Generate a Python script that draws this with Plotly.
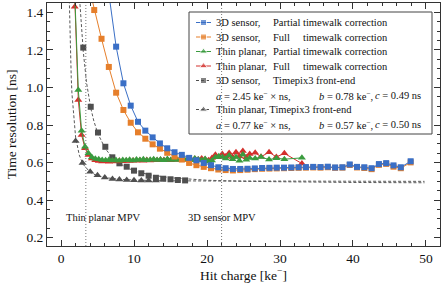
import plotly.graph_objects as go

# ---------------- data ----------------
# 3D sensor, partial / full timewalk correction (bin centres in ke-)
d3_x = [3.55, 4.55, 5.55, 6.55, 7.55, 8.55, 9.55, 10.55, 11.55, 12.55, 13.55, 14.55,
        15.55, 16.55, 17.55, 18.55, 19.55, 20.55, 21.55, 22.55, 23.55, 24.55, 25.55,
        26.55, 27.55, 28.55, 29.55, 30.55, 31.55, 32.55, 33.55, 34.55, 35.55, 36.55,
        37.55, 38.55, 39.55, 40.55, 41.55, 42.55, 43.55, 44.55, 45.55, 46.55, 47.9]
d3_partial = [2.10, 1.80, 1.62, 1.50, 1.217, 1.022, 0.903, 0.817, 0.770, 0.734, 0.702, 0.676,
              0.655, 0.641, 0.625, 0.612, 0.598, 0.586, 0.575, 0.570, 0.566, 0.566, 0.567,
              0.569, 0.571, 0.572, 0.573, 0.573, 0.574, 0.575, 0.576, 0.577, 0.576, 0.578,
              0.574, 0.575, 0.590, 0.577, 0.575, 0.570, 0.592, 0.597, 0.585, 0.575, 0.607]
d3_full = [1.58, 1.412, 1.259, 1.109, 0.972, 0.880, 0.812, 0.761, 0.727, 0.697, 0.674, 0.652,
           0.632, 0.616, 0.598, 0.586, 0.577, 0.570, 0.563, 0.560, 0.558, 0.560, 0.562,
           0.565, 0.567, 0.568, 0.569, 0.570, 0.571, 0.572, 0.573, 0.574, 0.573, 0.575,
           0.572, 0.573, 0.587, 0.574, 0.571, 0.565, 0.588, 0.593, 0.578, 0.570, 0.601]

# Thin planar, partial / full timewalk correction
thin_x = [1.41, 1.88, 2.37, 2.82, 3.29, 3.76, 4.23, 4.70, 5.17, 5.64, 6.11, 6.58, 7.05, 7.52,
          7.99, 8.46, 8.93, 9.40, 9.87, 10.34, 10.81, 11.28, 11.75, 12.22, 12.69, 13.16, 13.63,
          14.10, 14.57, 15.04, 15.51, 15.98, 16.45, 16.92, 17.39, 17.86, 18.33, 18.80, 19.27,
          19.74, 20.21, 20.68, 21.15, 21.62, 22.09, 22.56, 23.03, 23.50, 23.97, 24.44, 24.91,
          25.38, 25.85, 26.6, 27.4, 28.5, 29.5, 30.6, 33.0]
thin_partial = [2.00, 1.50, 0.986, 0.770, 0.684, 0.649, 0.628, 0.620, 0.617, 0.614, 0.612, 0.615,
                0.611, 0.613, 0.610, 0.614, 0.612, 0.615, 0.611, 0.616, 0.613, 0.617, 0.612,
                0.615, 0.618, 0.613, 0.616, 0.612, 0.619, 0.614, 0.617, 0.613, 0.620, 0.615,
                0.618, 0.612, 0.621, 0.616, 0.612, 0.619, 0.606, 0.611, 0.628, 0.634, 0.630,
                0.622, 0.638, 0.617, 0.629, 0.610, 0.643, 0.615, 0.624, 0.621, 0.629, 0.616,
                0.623, 0.618, 0.625]
thin_full = [2.00, 1.43, 0.933, 0.747, 0.676, 0.640, 0.622, 0.612, 0.608, 0.606, 0.607, 0.605,
             0.608, 0.606, 0.609, 0.607, 0.610, 0.608, 0.611, 0.609, 0.612, 0.610, 0.613,
             0.611, 0.614, 0.612, 0.615, 0.613, 0.616, 0.612, 0.617, 0.614, 0.618, 0.613,
             0.619, 0.615, 0.620, 0.616, 0.621, 0.617, 0.612, 0.624, 0.641, 0.628, 0.646,
             0.632, 0.651, 0.630, 0.655, 0.633, 0.662, 0.628, 0.645, 0.652, 0.631, 0.655,
             0.630, 0.649, 0.595]

# Timepix3 front-end measurements
tpx3d_x = [3.05, 4.07, 5.07, 6.07, 7.03, 8.0, 9.0, 10.0, 11.0, 12.0, 13.0, 14.0, 15.0, 16.0, 17.0]
tpx3d_y = [1.212, 0.897, 0.760, 0.684, 0.628, 0.596, 0.578, 0.557, 0.543, 0.530, 0.519, 0.514,
           0.511, 0.507, 0.505]
tpxthin_x = [2.0, 2.95, 4.0, 5.0, 6.0, 7.05, 8.0, 9.0, 10.0, 11.0, 12.0, 13.0]
tpxthin_y = [0.715, 0.598, 0.551, 0.533, 0.521, 0.513, 0.510, 0.507, 0.506, 0.505, 0.505, 0.504]

# fit curves
fit3d_x = [2.55, 2.8, 3.05, 3.5, 4.07, 4.5, 5.07, 6.07, 7.03, 8.0, 9.0, 10.0, 12.0, 15.0,
           20.0, 25.0, 30.0, 40.0, 49.8]
fit3d_y = [1.47, 1.31, 1.19, 1.025, 0.891, 0.821, 0.752, 0.674, 0.627, 0.596, 0.573, 0.557,
           0.536, 0.519, 0.506, 0.500, 0.497, 0.494, 0.4925]
fitthin_x = [1.12, 1.2, 1.3, 1.4, 1.5, 1.75, 2.0, 2.5, 3.0, 4.0, 5.0, 6.0, 8.0, 10.0, 14.0,
             20.0, 30.0, 49.8]
fitthin_y = [1.49, 1.32, 1.167, 1.054, 0.967, 0.822, 0.735, 0.640, 0.592, 0.548, 0.529, 0.520,
             0.511, 0.507, 0.503, 0.502, 0.501, 0.500]

mpv_thin = 3.4
mpv_3d = 22.0

# ---------------- styling ----------------
FONT = "Liberation Serif, Times New Roman, DejaVu Serif, serif"
BLUE = "#3a6fc6"
ORANGE = "#e67f2b"
GREEN = "#3a9b3e"
RED = "#d3302c"
GRAY = "#4f4f4f"

fig = go.Figure()

fig.add_trace(go.Scatter(x=fit3d_x, y=fit3d_y, mode="lines",
                         line=dict(color="#5a5a5a", width=1, dash="3px,2px")))
fig.add_trace(go.Scatter(x=fitthin_x, y=fitthin_y, mode="lines",
                         line=dict(color="#5a5a5a", width=1, dash="3px,2px")))
fig.add_trace(go.Scatter(x=tpx3d_x, y=tpx3d_y, mode="markers",
                         marker=dict(symbol="square", size=6, color=GRAY)))
fig.add_trace(go.Scatter(x=tpxthin_x, y=tpxthin_y, mode="markers",
                         marker=dict(symbol="triangle-up", size=7, color=GRAY)))
fig.add_trace(go.Scatter(x=thin_x, y=thin_full, mode="lines+markers",
                         line=dict(color=RED, width=1),
                         marker=dict(symbol="triangle-up", size=7, color=RED)))
fig.add_trace(go.Scatter(x=thin_x, y=thin_partial, mode="lines+markers",
                         line=dict(color=GREEN, width=1),
                         marker=dict(symbol="triangle-up", size=7, color=GREEN)))
fig.add_trace(go.Scatter(x=d3_x, y=d3_full, mode="lines+markers",
                         line=dict(color=ORANGE, width=1),
                         marker=dict(symbol="square", size=6, color=ORANGE)))
fig.add_trace(go.Scatter(x=d3_x, y=d3_partial, mode="lines+markers",
                         line=dict(color=BLUE, width=1),
                         marker=dict(symbol="square", size=6, color=BLUE)))

# ---------------- hand-made legend (pixel coordinates on overlay axes) ----------------
L, R, T, B = 47, 440, 3, 246
rows = [22.5, 37, 51.5, 66, 80.5, 95, 109.5, 124]
leg_entries = [
    (0, BLUE, "square", 6, "solid"),
    (1, ORANGE, "square", 6, "solid"),
    (2, GREEN, "triangle-up", 7, "solid"),
    (3, RED, "triangle-up", 7, "solid"),
    (4, GRAY, "square", 6, "3px,2px"),
    (6, GRAY, "triangle-up", 7, "3px,2px"),
]
for r, col, sym, sz, dash in leg_entries:
    fig.add_trace(go.Scatter(x=[196, 203.5, 211], y=[rows[r]] * 3, xaxis="x2", yaxis="y2",
                             mode="lines+markers", line=dict(color=col, width=1, dash=dash),
                             marker=dict(symbol=sym, size=[0, sz, 0], color=col)))

sup = "ke<sup>−</sup>"
legend_texts = [
    (214, rows[0], "3D sensor,"), (271, rows[0], "Partial timewalk correction"),
    (214, rows[1], "3D sensor,"), (271, rows[1], "Full"), (301, rows[1], "timewalk correction"),
    (214, rows[2], "Thin planar,"), (271, rows[2], "Partial timewalk correction"),
    (214, rows[3], "Thin planar,"), (271, rows[3], "Full"), (301, rows[3], "timewalk correction"),
    (214, rows[4], "3D sensor,"), (271, rows[4], "Timepix3 front-end"),
    (214, rows[5], "<i>a</i> = 2.45 " + sup + " × ns,"), (317, rows[5], "<i>b</i> = 0.78 " + sup + ","),
    (373, rows[5], "<i>c</i> = 0.49 ns"),
    (214, rows[6], "Thin planar, Timepix3 front-end"),
    (214, rows[7], "<i>a</i> = 0.77 " + sup + " × ns,"), (317, rows[7], "<i>b</i> = 0.57 " + sup + ","),
    (373, rows[7], "<i>c</i> = 0.50 ns"),
]
annotations = []
for x, y, t in legend_texts:
    annotations.append(dict(x=x, y=y, xref="x2", yref="y2", text=t, showarrow=False,
                            xanchor="left", yanchor="middle",
                            font=dict(family=FONT, size=10.5, color="#111")))

annotations.append(dict(x=5.75, y=0.31, xref="x", yref="y", text="Thin planar MPV",
                        showarrow=False, font=dict(family=FONT, size=10.5, color="#111")))
annotations.append(dict(x=mpv_3d, y=0.31, xref="x", yref="y", text="3D sensor MPV",
                        showarrow=False, font=dict(family=FONT, size=10.5, color="#111")))

shapes = [
    dict(type="rect", xref="x2", yref="y2", x0=189, x1=432, y0=12, y1=134,
         line=dict(color="#444", width=1), fillcolor="white", layer="below"),
    dict(type="line", xref="x", yref="paper", x0=mpv_thin, x1=mpv_thin, y0=0, y1=1,
         line=dict(color="#777", width=1, dash="1px,2px")),
    dict(type="line", xref="x", yref="paper", x0=mpv_3d, x1=mpv_3d, y0=0, y1=1,
         line=dict(color="#777", width=1, dash="1px,2px")),
]

axis_common = dict(showline=True, linecolor="#333", linewidth=1, mirror="allticks",
                   ticks="inside", ticklen=6, tickcolor="#333", showgrid=False, zeroline=False,
                   tickfont=dict(family=FONT, size=13.5, color="#111"))

fig.update_layout(
    width=444, height=284,
    margin=dict(l=L, r=444 - R, t=T, b=284 - B),
    paper_bgcolor="white", plot_bgcolor="white",
    showlegend=False,
    font=dict(family=FONT),
    xaxis=dict(range=[-1.92, 51.92], tick0=0, dtick=10,
               minor=dict(ticks="inside", ticklen=3, dtick=2, tickcolor="#333"),
               title=dict(text="Hit charge [" + sup + "]", font=dict(family=FONT, size=13.5, color="#111"),
                          standoff=2),
               **axis_common),
    yaxis=dict(range=[0.1558, 1.4495], tick0=0.2, dtick=0.2, tickformat=".1f",
               minor=dict(ticks="inside", ticklen=3, dtick=0.05, tickcolor="#333"),
               title=dict(text="Time resolution [ns]", font=dict(family=FONT, size=13.5, color="#111"),
                          standoff=6),
               **axis_common),
    xaxis2=dict(range=[L, R], overlaying="x", visible=False),
    yaxis2=dict(range=[B, T], overlaying="y", visible=False),
    annotations=annotations,
    shapes=shapes,
)

fig.write_html("out.html", config={"displayModeBar": False},
               post_script="document.body.style.margin='0';document.body.style.padding='0';")
